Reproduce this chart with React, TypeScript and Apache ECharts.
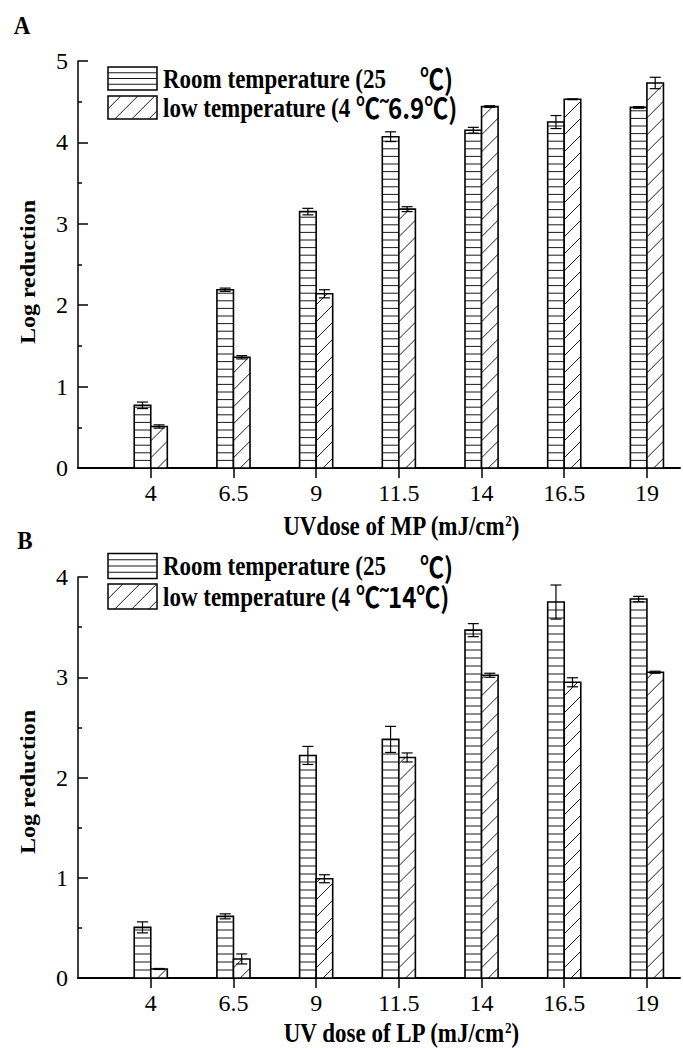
import React, { useEffect, useRef } from 'react';
import * as echarts from 'echarts';

// ---------- data ----------
const doses = [4, 6.5, 9, 11.5, 14, 16.5, 19];

// Panel A (MP lamp)
const roomA = [0.77, 2.19, 3.15, 4.07, 4.15, 4.25, 4.43];
const roomAErr = [0.04, 0.02, 0.04, 0.06, 0.035, 0.08, 0.01];
const lowA = [0.51, 1.36, 2.14, 3.18, 4.44, 4.53, 4.73];
const lowAErr = [0.02, 0.02, 0.05, 0.03, 0.01, 0.005, 0.07];

// Panel B (LP lamp)
const roomB = [0.505, 0.615, 2.22, 2.38, 3.47, 3.75, 3.78];
const roomBErr = [0.055, 0.025, 0.09, 0.13, 0.065, 0.17, 0.027];
const lowB = [0.09, 0.19, 0.99, 2.2, 3.02, 2.95, 3.05];
const lowBErr = [0.005, 0.05, 0.04, 0.045, 0.02, 0.045, 0.01];

const yMaxA = 5;
const yMaxB = 4;

const legendRoomMain = 'Room temperature (25';
const legendRoomTail = '℃)';
const legendLowMain = 'low temperature (4 ';
const legendLowTailA = '℃˜6.9℃)';
const legendLowTailB = '℃˜14℃)';
const xTitleA = 'UVdose of MP (mJ/cm';
const xTitleB = 'UV dose of LP (mJ/cm';
const yTitle = 'Log reduction';

// ---------- styling ----------
const SERIF = 'Liberation Serif, Times New Roman, serif';
const SANS = 'Noto Sans CJK SC, Liberation Sans, sans-serif';
const BAR_W = 0.5; // in dose units
const INK = '#000';
const STRETCH = 1.17; // the reference figure is slightly stretched vertically

type Seg = { x1: number; y1: number; x2: number; y2: number };

function hatch(kind: 'room' | 'low', L: number, T: number, R: number, B: number, step: number): Seg[] {
  const segs: Seg[] = [];
  if (kind === 'room') {
    for (let y = B - step; y > T + 1.5; y -= step) {
      segs.push({ x1: L, y1: y, x2: R, y2: y });
    }
  } else {
    const base = L + B;
    const jMin = Math.ceil((L + T - base) / step) - 1;
    const jMax = Math.floor((R + B - base) / step) + 1;
    for (let j = jMin; j <= jMax; j++) {
      const c = base + (j + 0.4) * step;
      const xa = Math.max(L, c - B);
      const xb = Math.min(R, c - T);
      if (xb - xa > 0.5) segs.push({ x1: xa, y1: c - xa, x2: xb, y2: c - xb });
    }
  }
  return segs;
}

function barRenderer(kind: 'room' | 'low', step: number) {
  return (_params: any, api: any) => {
    const x = api.value(0);
    const y = api.value(1);
    const e = api.value(2);
    const x0 = kind === 'room' ? x - BAR_W : x;
    const x1 = kind === 'room' ? x : x + BAR_W;
    const tl = api.coord([x0, y]);
    const br = api.coord([x1, 0]);
    const L = tl[0], T = tl[1], R = br[0], B = br[1];
    const children: any[] = [];
    children.push({ type: 'rect', shape: { x: L, y: T, width: R - L, height: B - T }, style: { fill: '#fff' } });
    hatch(kind, L, T, R, B, step).forEach((s) =>
      children.push({ type: 'line', shape: s, style: { stroke: '#1a1a1a', lineWidth: 1 } })
    );
    children.push({
      type: 'rect',
      shape: { x: L, y: T, width: R - L, height: B - T },
      style: { fill: 'none', stroke: INK, lineWidth: 1.6 },
    });
    const cx = (L + R) / 2;
    const hi = api.coord([x, y + e])[1];
    const lo = api.coord([x, y - e])[1];
    const cap = 5.5;
    children.push({ type: 'line', shape: { x1: cx, y1: hi, x2: cx, y2: lo }, style: { stroke: INK, lineWidth: 1.2 } });
    children.push({ type: 'line', shape: { x1: cx - cap, y1: hi, x2: cx + cap, y2: hi }, style: { stroke: INK, lineWidth: 1.2 } });
    children.push({ type: 'line', shape: { x1: cx - cap, y1: lo, x2: cx + cap, y2: lo }, style: { stroke: INK, lineWidth: 1.2 } });
    return { type: 'group', children };
  };
}

function legendIcon(kind: 'room' | 'low', x: number, y: number, w: number, h: number): any {
  const step = kind === 'room' ? h / 4 : 17;
  const segs = hatch(kind, x, y, x + w, y + h, step);
  return {
    type: 'group',
    children: [
      { type: 'rect', shape: { x, y, width: w, height: h }, style: { fill: '#fff', stroke: INK, lineWidth: 1.5 } },
      ...segs.map((s) => ({ type: 'line', shape: s, style: { stroke: '#1a1a1a', lineWidth: 1 } })),
    ],
  };
}

const legendRich = {
  s: { fontFamily: SERIF, fontWeight: 'bold', fontSize: 23, fill: INK },
  c: { fontFamily: SANS, fontWeight: 'bold', fontSize: 24, fill: INK },
  g: { fontFamily: SANS, fontWeight: 'bold', fontSize: 24, fill: INK, padding: [0, 0, 0, 34] },
};

function legendBlock(y1: number, y2: number, boxH: number, lowTail: string): any[] {
  return [
    legendIcon('room', 108, y1 - boxH / 2, 49, boxH),
    legendIcon('low', 108, y2 - boxH / 2, 49, boxH),
    {
      type: 'text',
      x: 163,
      y: y1,
      scaleY: STRETCH,
      style: {
        text: `{s|${legendRoomMain}}{g|${legendRoomTail}}`,
        rich: legendRich,
        align: 'left',
        verticalAlign: 'middle',
      },
    },
    {
      type: 'text',
      x: 163,
      y: y2,
      scaleY: STRETCH,
      style: {
        text: `{s|${legendLowMain}}{c|${lowTail}}`,
        rich: legendRich,
        align: 'left',
        verticalAlign: 'middle',
      },
    },
  ];
}

const titleRich = {
  b: { fontFamily: SERIF, fontWeight: 'bold', fontSize: 23, lineHeight: 22, fill: INK },
  sup: { fontFamily: SERIF, fontWeight: 'bold', fontSize: 13, lineHeight: 22, fill: INK, verticalAlign: 'top' },
};

function xTitle(text: string, x: number, y: number): any {
  return {
    type: 'text',
    x,
    y,
    scaleY: STRETCH,
    style: { text: `{b|${text}}{sup|2}{b|)}`, rich: titleRich, align: 'center', verticalAlign: 'middle' },
  };
}

function yTitleEl(x: number, y: number): any {
  return {
    type: 'text',
    x,
    y,
    rotation: Math.PI / 2,
    scaleX: 1.2,
    style: {
      text: yTitle,
      fontFamily: SERIF,
      fontWeight: 'bold',
      fontSize: 20,
      fill: INK,
      align: 'center',
      verticalAlign: 'middle',
    },
  };
}

function panelLetter(t: string, x: number, y: number): any {
  return {
    type: 'text',
    x,
    y,
    scaleY: 1.05,
    style: { text: t, fontFamily: SERIF, fontWeight: 'bold', fontSize: 23, fill: INK, align: 'center', verticalAlign: 'middle' },
  };
}

function xAxisFor(gridIndex: number): any {
  return {
    type: 'value',
    gridIndex,
    min: 1.8,
    max: 20,
    axisLine: { show: true, lineStyle: { color: INK, width: 2 } },
    axisTick: { show: true, customValues: doses, inside: false, length: 10, lineStyle: { color: INK, width: 1.5 } },
    axisLabel: { show: true, customValues: doses, margin: 13, color: INK, fontSize: 24, fontFamily: SERIF },
    splitLine: { show: false },
  };
}

function yAxisFor(gridIndex: number, max: number): any {
  return {
    type: 'value',
    gridIndex,
    min: 0,
    max,
    interval: 1,
    axisLine: { show: true, lineStyle: { color: INK, width: 1.5 } },
    axisTick: { show: true, inside: true, length: 10, lineStyle: { color: INK, width: 1.5 } },
    minorTick: { show: true, splitNumber: 2, length: 4, lineStyle: { color: INK, width: 1.5 } },
    axisLabel: { show: true, margin: 10, color: INK, fontSize: 24, fontFamily: SERIF },
    splitLine: { show: false },
  };
}

function barSeries(name: string, kind: 'room' | 'low', vals: number[], errs: number[], idx: number, step: number): any {
  return {
    name,
    type: 'custom',
    xAxisIndex: idx,
    yAxisIndex: idx,
    clip: false,
    encode: { x: 0, y: 1 },
    renderItem: barRenderer(kind, step),
    data: doses.map((d, i) => [d, vals[i], errs[i]]),
  };
}

export default function App() {
  const ref = useRef<HTMLDivElement>(null);
  useEffect(() => {
    document.body.style.margin = '0';
    if (!ref.current) return;
    const chart = echarts.init(ref.current, undefined, { renderer: 'svg' });
    chart.setOption({
      animation: false,
      backgroundColor: '#fff',
      grid: [
        { left: 78, top: 61, width: 602, height: 407 },
        { left: 78, top: 577, width: 602, height: 401 },
      ],
      xAxis: [xAxisFor(0), xAxisFor(1)],
      yAxis: [yAxisFor(0, yMaxA), yAxisFor(1, yMaxB)],
      series: [
        barSeries('Room temperature A', 'room', roomA, roomAErr, 0, 7.6),
        barSeries('Low temperature A', 'low', lowA, lowAErr, 0, 17),
        barSeries('Room temperature B', 'room', roomB, roomBErr, 1, 8),
        barSeries('Low temperature B', 'low', lowB, lowBErr, 1, 17),
      ],
      graphic: [
        panelLetter('A', 22, 26),
        panelLetter('B', 25, 541),
        yTitleEl(28, 272),
        yTitleEl(28, 782),
        xTitle(xTitleA, 401, 526),
        xTitle(xTitleB, 401, 1033),
        ...legendBlock(78.5, 107.5, 23, legendLowTailA),
        ...legendBlock(566, 596.5, 25, legendLowTailB),
      ],
    });
    return () => chart.dispose();
  }, []);
  return <div ref={ref} style={{ width: 683, height: 1048 }} />;
}
